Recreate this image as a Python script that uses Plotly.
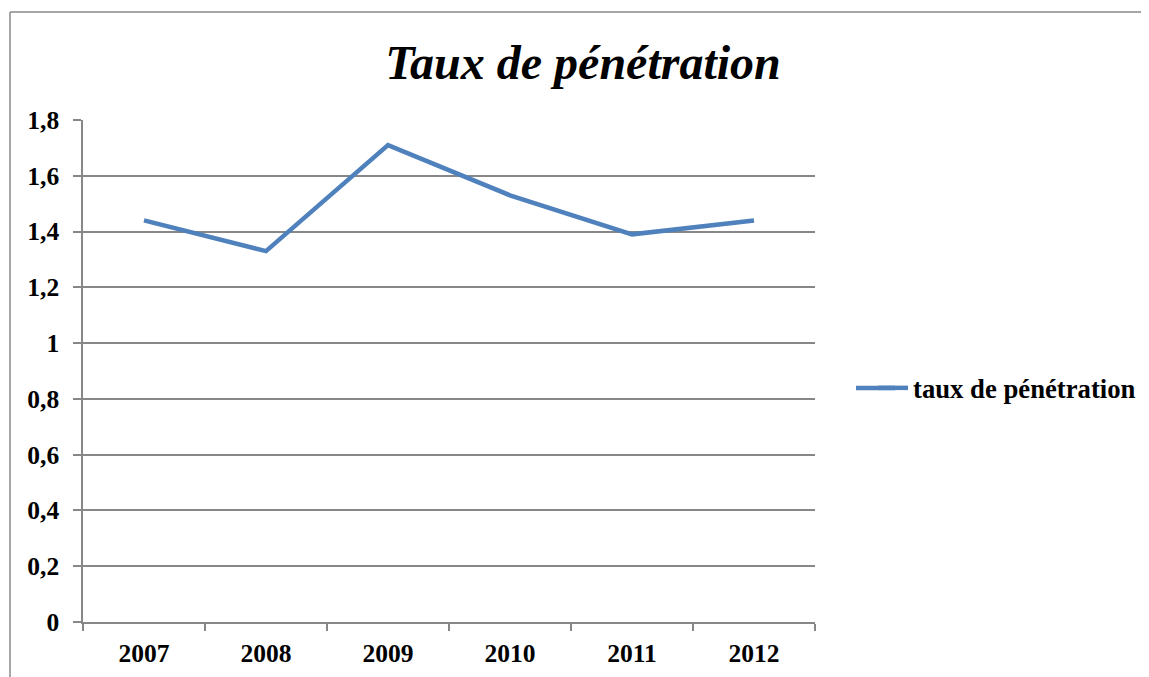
import plotly.graph_objects as go

years = ["2007", "2008", "2009", "2010", "2011", "2012"]
taux = [1.44, 1.33, 1.71, 1.53, 1.39, 1.44]
series_name = "taux de pénétration"
title_text = "Taux de pénétration"

# page (screenshot) pixel geometry; the html body has an 8px margin
OFF = 8
W, H = 1149 - OFF, 677 - OFF
L, R, T, B = 83, 815, 120, 622          # plot area in page pixels
pw, ph = R - L, B - T

def px_x(p):
    return (p - L) / pw

def px_y(p):
    return (B - p) / ph

font = "Liberation Serif, Times New Roman, serif"
grid = "#878787"
blue = "#4F81BD"

fig = go.Figure()
fig.add_trace(go.Scatter(
    x=years, y=taux, mode="lines", name="<b>" + series_name + "</b>",
    line=dict(color=blue, width=4.5),
))

fig.update_layout(
    width=W, height=H,
    margin=dict(l=L - OFF, r=W - (R - OFF), t=T - OFF, b=H - (B - OFF), pad=0,
                autoexpand=False),
    paper_bgcolor="white", plot_bgcolor="white",
    separators=", ",
    title=dict(text="<b><i>" + title_text + "</i></b>", x=(583 - OFF) / W, xanchor="center",
               y=1 - (62 - OFF) / H, yanchor="middle",
               font=dict(family=font, size=48, color="black")),
    showlegend=True,
    legend=dict(x=px_x(873), y=px_y(388), xanchor="left", yanchor="middle",
                font=dict(family=font, size=26.7, color="black"),
                bgcolor="rgba(0,0,0,0)", tracegroupgap=0),
    xaxis=dict(type="category", range=[-0.5, 5.5], showgrid=False, showline=True,
               linecolor=grid, linewidth=1.5, automargin=False,
               ticks="outside", tickson="boundaries", ticklen=7, tickcolor=grid, tickwidth=1.5,
               tickfont=dict(family=font, size=25.5, color="black"),
               tickprefix="<b>", ticksuffix="</b>",
               ticklabelstandoff=8, zeroline=False),
    yaxis=dict(range=[0, 1.8], dtick=0.2, tick0=0, showgrid=True, gridcolor=grid, gridwidth=1.5,
               showline=True, linecolor=grid, linewidth=1.5, automargin=False,
               ticks="outside", ticklen=8, tickcolor=grid, tickwidth=1.5,
               tickfont=dict(family=font, size=25.5, color="black"),
               tickprefix="<b>", ticksuffix="</b>",
               ticklabelstandoff=9, zeroline=False),
)

# extend legend line sample to match the longer swatch
fig.add_shape(type="line", xref="paper", yref="paper",
              x0=px_x(856), x1=px_x(895), y0=px_y(388), y1=px_y(388),
              line=dict(color=blue, width=4.5))

# outer chart frame (left and top edges only are visible)
fig.add_shape(type="line", xref="paper", yref="paper",
              x0=px_x(10), x1=px_x(10), y0=px_y(720), y1=px_y(12),
              line=dict(color="#8a8a8a", width=1.5))
fig.add_shape(type="line", xref="paper", yref="paper",
              x0=px_x(10), x1=px_x(1200), y0=px_y(12), y1=px_y(12),
              line=dict(color="#8a8a8a", width=1.5))

fig.write_html("out.html")
